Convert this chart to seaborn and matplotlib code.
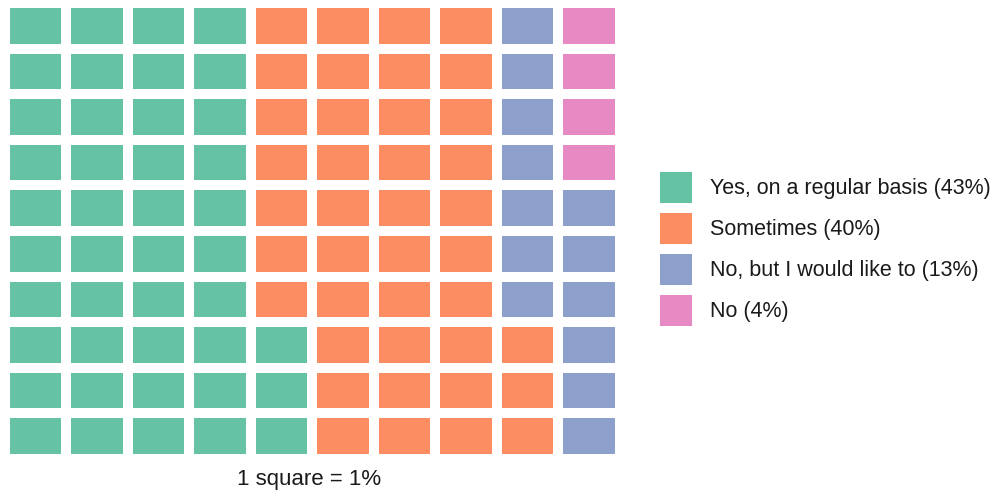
import matplotlib
matplotlib.use("Agg")
import matplotlib.pyplot as plt
import seaborn as sns
import numpy as np
from matplotlib.colors import ListedColormap
from matplotlib.patches import Patch

# Dữ liệu: câu trả lời và phần trăm
categories = ["Yes, on a regular basis", "Sometimes", "No, but I would like to", "No"]
values = [43, 40, 13, 4]
n_rows, n_cols = 10, 10

colors = sns.color_palette("Set2", len(categories))

# Ô waffle: điền theo cột, từ dưới lên
codes = np.repeat(np.arange(len(categories)), values)
grid = np.zeros((n_rows, n_cols), dtype=int)
for k, c in enumerate(codes):
    grid[n_rows - 1 - k % n_rows, k // n_rows] = c

plt.rcParams["font.family"] = ["Liberation Sans", "DejaVu Sans"]

fig = plt.figure(figsize=(10.04, 4.93), dpi=100)
W, H = 1004, 493
ax = fig.add_axes([4.75 / W, (H - 458.8) / H, 615 / W, 455.6 / H])

sns.heatmap(
    grid,
    cmap=ListedColormap(colors),
    vmin=-0.5,
    vmax=len(categories) - 0.5,
    cbar=False,
    linewidths=7.2,
    linecolor="white",
    xticklabels=False,
    yticklabels=False,
    ax=ax,
)
ax.set_xlabel("")
ax.set_ylabel("")

handles = [Patch(facecolor=c, edgecolor="none") for c in colors]
labels = [f"{name} ({v}%)" for name, v in zip(categories, values)]
fig.legend(
    handles,
    labels,
    loc="center left",
    bbox_to_anchor=(660 / W, 1 - 249 / H),
    frameon=False,
    fontsize=15.5,
    handlelength=1.49,
    handleheight=1.84,
    handletextpad=0.84,
    labelspacing=0.465,
    borderpad=0,
    borderaxespad=0,
    labelcolor="#1a1a1a",
)

fig.text(309 / W, 1 - 479 / H, "1 square = 1%", ha="center", va="center",
         fontsize=16, color="#1a1a1a")

fig.savefig("out.png", dpi=100)
